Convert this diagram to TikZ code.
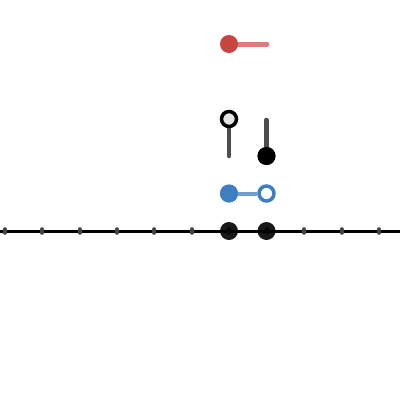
\documentclass[tikz,border=0pt]{standalone}
\definecolor{redline}{HTML}{E07B7B}
\definecolor{reddot}{HTML}{C8443F}
\definecolor{blueline}{HTML}{6E9ED2}
\definecolor{bluedot}{HTML}{3F7EC0}
\definecolor{stemgray}{HTML}{4D4D4D}
\definecolor{tickgray}{HTML}{444444}
\tikzset{
  fdot/.style={circle,inner sep=0pt,minimum size=18pt,draw=none},
  odot/.style={circle,inner sep=0pt,minimum size=15pt,line width=3.5pt},
  tickmark/.style={tickgray,line width=4pt,line cap=round},
}
\begin{document}
\begin{tikzpicture}[x=1pt,y=-1pt]
\useasboundingbox (0,0) rectangle (400,400);
% axis
\coordinate (axl) at (0,231);
\coordinate (axr) at (400,231);
\draw[line width=3pt,black] (axl) -- (axr);
\foreach \i in {0,...,10}{
  \coordinate (t\i) at ({4.7+37.43*\i},231);
  \draw[tickmark] ([yshift=-1.8pt]t\i) -- ([yshift=1.8pt]t\i);
}
% red
\coordinate (re) at (267,44);
\draw[redline,line width=5pt,line cap=round] (229,44) -- (re);
\node[fdot,fill=reddot] (ra) at (229,44) {};
% stems
\coordinate (s1b) at (229,156);
\coordinate (s2t) at (266.5,120);
\draw[stemgray,line width=4.5pt,line cap=round] (229,119) -- (s1b);
\node[odot,draw=black,fill=black!10] (s1) at (229,119) {};
\node[fdot,fill=black] (s2) at (266.5,156) {};
\draw[stemgray,line width=4.5pt,line cap=round] (s2t) -- (s2.center);
\node[fdot,fill=black] at (s2) {};
% blue
\node[fdot,fill=bluedot] (ba) at (229,193.5) {};
\node[odot,draw=bluedot,fill=white] (bb) at (266.5,193.5) {};
\draw[blueline,line width=4pt] (ba) -- (bb);
\node[fdot,fill=bluedot] at (ba) {};
% axis dots
\node[fdot,fill=black,fill opacity=0.9] (p1) at (229,231) {};
\node[fdot,fill=black,fill opacity=0.9] (p2) at (266.5,231) {};
\end{tikzpicture}
\end{document}
